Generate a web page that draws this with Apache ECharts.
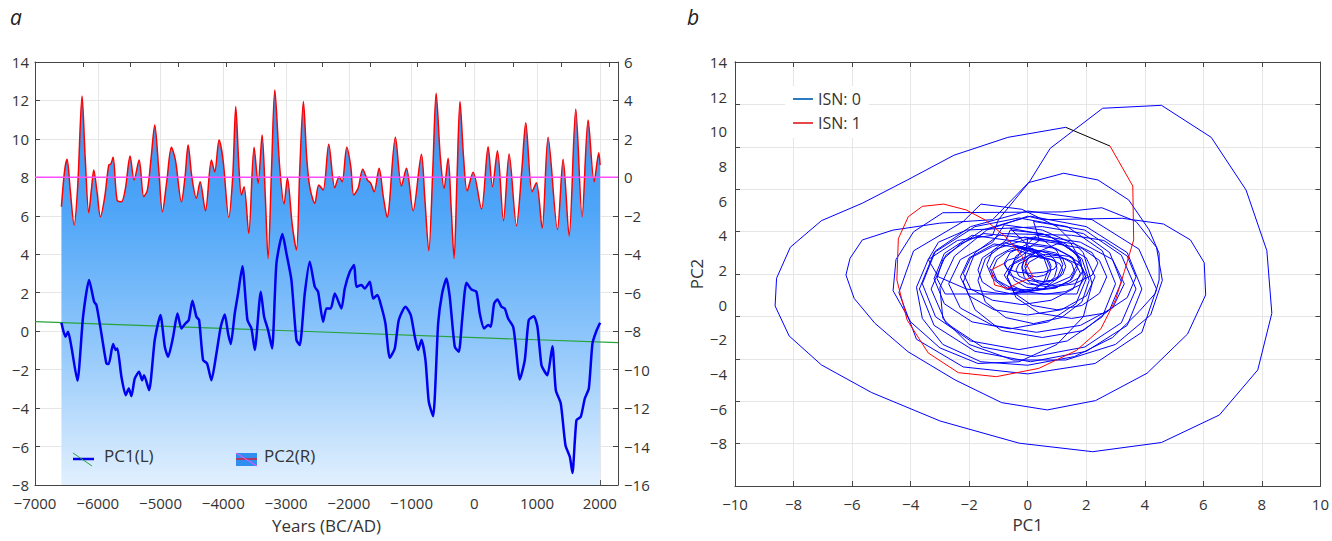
<!DOCTYPE html>
<html><head><meta charset="utf-8">
<script src="https://cdn.jsdelivr.net/npm/echarts@6/dist/echarts.min.js"></script>
<style>html,body{margin:0;padding:0;background:#fff}#c{width:1332px;height:541px}</style>
</head><body><div id="c"></div>
<script>
// ---------- Panel a data ----------
const pc2Years = [-6579,-6530,-6489,-6440,-6377,-6320,-6250,-6200,-6143,-6100,-6064,-6010,-5958,-5888,-5825,-5790,-5756,-5692,-5623,-5559,-5485,-5421,-5341,-5267,-5209,-5150,-5092,-5030,-4970,-4900,-4826,-4762,-4667,-4610,-4560,-4500,-4428,-4369,-4284,-4189,-4136,-4067,-4003,-3913,-3850,-3801,-3750,-3711,-3668,-3594,-3509,-3445,-3381,-3330,-3286,-3230,-3179,-3100,-3031,-2978,-2900,-2834,-2780,-2723,-2670,-2622,-2542,-2478,-2409,-2319,-2223,-2154,-2106,-2032,-1968,-1921,-1852,-1777,-1703,-1650,-1596,-1517,-1450,-1389,-1257,-1161,-1081,-975,-842,-790,-725,-660,-608,-540,-481,-417,-370,-322,-275,-228,-170,-114,-19,114,220,289,369,465,555,672,760,820,921,990,1081,1176,1325,1415,1511,1617,1718,1814,1910,1984,2005];
const pc2Values = [-1.53,0.3,0.94,-0.6,-2.48,-0.5,4.23,1.0,-1.84,-0.6,0.38,-0.8,-2.05,-1.0,0.64,0.7,1.04,-1.18,-1.27,-0.57,1.11,-0.14,0.9,-1.0,-0.66,1.0,2.72,0.5,-1.79,-0.2,1.56,0.9,-1.27,0.0,1.68,0.0,-1.09,-0.23,-1.74,0.9,0.29,1.94,0.9,-2.08,0.0,3.68,0.5,-0.92,-0.49,-2.91,1.56,-0.31,2.2,-1.0,-4.22,0.5,4.54,0.5,-1.39,-0.05,-2.5,-3.78,0.5,3.94,1.0,-0.49,-1.35,-0.4,-0.66,1.72,-0.54,0.03,-0.23,1.56,0.55,-0.92,-0.57,0.42,-0.14,-0.31,-0.75,0.47,-1.0,-2.08,2.08,-0.45,0.47,-1.74,1.2,-1.0,-3.82,0.5,4.37,1.0,-0.57,0.99,-1.5,-4.22,0.0,3.94,1.0,-0.7,0.26,-1.65,1.59,-0.49,1.39,-2.25,1.21,-2.52,0.5,2.84,-0.75,-0.28,-2.65,2.08,-2.71,0.94,-3.05,3.55,-2.05,2.98,-0.23,1.28,0.64];
const pc1Years = [-6579,-6515,-6473,-6420,-6324,-6234,-6138,-6058,-6021,-5942,-5862,-5825,-5756,-5713,-5687,-5623,-5554,-5506,-5464,-5410,-5341,-5293,-5262,-5182,-5092,-5001,-4932,-4879,-4799,-4730,-4667,-4603,-4550,-4492,-4428,-4385,-4322,-4258,-4189,-4109,-4040,-3976,-3923,-3880,-3817,-3764,-3695,-3615,-3551,-3498,-3402,-3349,-3286,-3222,-3153,-3057,-2994,-2914,-2834,-2781,-2701,-2622,-2542,-2489,-2409,-2356,-2287,-2223,-2117,-2064,-1984,-1915,-1878,-1798,-1745,-1665,-1612,-1543,-1480,-1416,-1347,-1267,-1203,-1097,-1012,-948,-895,-842,-778,-725,-656,-576,-513,-444,-391,-311,-247,-194,-125,-45,34,87,156,220,263,316,369,433,486,539,619,656,725,805,868,948,1006,1070,1123,1166,1245,1299,1378,1453,1522,1564,1628,1697,1761,1825,1883,1947,2005];
const pc1Values = [0.44,-0.29,-0.03,-0.81,-2.58,0.75,2.66,1.53,1.36,-0.12,-1.68,-1.71,-0.67,-0.98,-0.9,-2.37,-3.33,-2.98,-3.38,-2.46,-2.11,-2.55,-2.29,-3.07,-0.46,0.84,-0.81,-1.33,-0.29,0.92,0.14,0.4,0.58,1.58,0.75,0.58,-1.5,-1.68,-2.55,-1.16,0.23,0.87,-0.12,-0.67,0.92,1.96,3.38,0.58,0.14,-0.98,2.05,0.75,0.06,-0.9,3.52,5.05,4.05,2.66,-0.46,-0.72,1.96,3.61,2.31,2.05,0.49,1.18,1.18,1.96,1.18,2.22,3.09,3.44,2.31,2.4,2.22,2.57,1.7,1.88,1.27,0.4,-1.38,-0.9,0.58,1.27,0.84,-0.29,-0.98,-0.46,-1.5,-3.67,-4.42,0.4,1.96,2.74,1.79,-0.81,-1.07,0.58,2.52,2.17,2.05,0.92,0.14,0.32,0.23,1.44,1.65,1.27,1.18,0.66,0.23,-0.64,-2.51,-1.5,0.58,0.78,0.23,-1.76,-2.11,-2.29,-0.78,-3.07,-3.76,-5.93,-6.53,-7.37,-4.63,-4.45,-3.5,-2.98,-0.64,0.02,0.44];
const trendYears = [-7000, 2290];
const trendValues = [0.5, -0.6];
const zeroYears = [-7000, 2290];
const zeroValues = [0, 0];

// ---------- Panel b data (PC1, PC2) ----------
const loopA = [[0.4,2.7],[0.8,2.6],[1.1,2.35],[1.2,2.0],[1.1,1.65],[0.8,1.4],[0.4,1.3],[0.0,1.4],[-0.3,1.65],[-0.4,2.0],[-0.3,2.35],[0.0,2.6]];
const loopY = [[0.1,2.8],[0.55,2.73],[0.9,2.55],[1.0,2.3],[0.9,2.05],[0.55,1.87],[0.1,1.8],[-0.35,1.87],[-0.7,2.05],[-0.8,2.3],[-0.7,2.55],[-0.35,2.73]];
const loopAA = [[-0.2,3.2],[0.3,3.05],[0.65,2.6],[0.8,2.0],[0.65,1.4],[0.3,0.95],[-0.2,0.8],[-0.7,0.95],[-1.05,1.4],[-1.2,2.0],[-1.05,2.6],[-0.7,3.05]];
const loopB = [[0.2,3.4],[0.95,3.25],[1.5,2.75],[1.7,2.1],[1.5,1.45],[0.95,0.95],[0.2,0.8],[-0.55,0.95],[-1.1,1.45],[-1.3,2.1],[-1.1,2.75],[-0.55,3.25]];
const loopN = [[0.3,2.8],[0.55,2.72],[0.73,2.5],[0.8,2.2],[0.73,1.9],[0.55,1.68],[0.3,1.6],[0.05,1.68],[-0.13,1.9],[-0.2,2.2],[-0.13,2.5],[0.05,2.72]];
const loopC = [[0.6,2.9],[1.1,2.8],[1.5,2.4],[1.6,1.9],[1.45,1.4],[1.0,1.0],[0.5,0.9],[-0.05,1.0],[-0.45,1.4],[-0.6,1.9],[-0.45,2.45],[0.0,2.8]];
const loopBB = [[1.0,3.5],[1.85,3.25],[2.45,2.55],[2.7,1.6],[2.45,0.65],[1.85,-0.05],[1.0,-0.3],[0.15,-0.05],[-0.45,0.65],[-0.7,1.6],[-0.45,2.55],[0.15,3.25]];
const loopV = [[0.6,2.8],[1.3,2.65],[1.8,2.25],[2.0,1.7],[1.8,1.15],[1.3,0.75],[0.6,0.6],[-0.1,0.75],[-0.6,1.15],[-0.8,1.7],[-0.6,2.25],[-0.1,2.65]];
const loopD = [[0.0,3.8],[1.15,3.5],[2.0,2.7],[2.3,1.6],[2.0,0.5],[1.15,-0.3],[0.0,-0.6],[-1.15,-0.3],[-2.0,0.5],[-2.3,1.6],[-2.0,2.7],[-1.15,3.5]];
const loopDD = [[0.4,3.1],[0.7,2.97],[0.92,2.6],[1.0,2.1],[0.92,1.6],[0.7,1.23],[0.4,1.1],[0.1,1.23],[-0.12,1.6],[-0.2,2.1],[-0.12,2.6],[0.1,2.97]];
const loopE = [[0.6,3.1],[0.95,2.98],[1.2,2.65],[1.3,2.2],[1.2,1.75],[0.95,1.42],[0.6,1.3],[0.25,1.42],[0.0,1.75],[-0.1,2.2],[0.0,2.65],[0.25,2.98]];
const loopG = [[-0.5,3.4],[0.1,3.2],[0.55,2.7],[0.7,2.0],[0.55,1.3],[0.1,0.8],[-0.5,0.6],[-1.1,0.8],[-1.55,1.3],[-1.7,2.0],[-1.55,2.7],[-1.1,3.2]];
const loopX = [[0.2,3.9],[1.15,3.55],[1.85,2.65],[2.1,1.4],[1.85,0.15],[1.15,-0.75],[0.2,-1.1],[-0.75,-0.75],[-1.45,0.15],[-1.7,1.4],[-1.45,2.65],[-0.75,3.55]];
const loopI = [[0.9,2.9],[1.4,2.78],[1.75,2.45],[1.9,2.0],[1.75,1.55],[1.4,1.22],[0.9,1.1],[0.4,1.22],[0.05,1.55],[-0.1,2.0],[0.05,2.45],[0.4,2.78]];
const loopCC = [[-0.6,4.4],[0.7,4.0],[1.65,2.95],[2.0,1.5],[1.65,0.05],[0.7,-1.0],[-0.6,-1.4],[-1.9,-1.0],[-2.85,0.05],[-3.2,1.5],[-2.85,2.95],[-1.9,4.0]];
const loopJ = [[-0.2,3.6],[0.8,3.35],[1.55,2.7],[1.8,1.8],[1.55,0.9],[0.8,0.25],[-0.2,0.0],[-1.2,0.25],[-1.95,0.9],[-2.2,1.8],[-1.95,2.7],[-1.2,3.35]];
const loopT = [[-0.1,3.9],[0.55,3.7],[1.0,3.1],[1.2,2.3],[1.0,1.5],[0.55,0.9],[-0.1,0.7],[-0.75,0.9],[-1.2,1.5],[-1.4,2.3],[-1.2,3.1],[-0.75,3.7]];
const loopK = [[-0.6,4.3],[0.5,4.1],[1.3,3.5],[1.8,2.6],[1.9,1.6],[1.68,0.61],[-2.82,0.61],[-3.1,1.5],[-2.9,2.6],[-2.3,3.5],[-1.5,4.1]];
const loopU = [[0.8,3.7],[1.6,3.5],[2.2,3.0],[2.4,2.4],[2.2,1.7],[1.6,1.2],[0.8,1.0],[0.0,1.2],[-0.6,1.7],[-0.8,2.4],[-0.6,3.0],[0.0,3.5]];
const loopF = [[0.3,4.0],[1.8,3.6],[2.9,2.6],[3.3,1.2],[2.9,-0.2],[1.8,-1.2],[0.3,-1.6],[-1.2,-1.2],[-2.3,-0.2],[-2.7,1.2],[-2.3,2.6],[-1.2,3.6]];
const loopW = [[-0.8,4.6],[0.5,4.3],[1.45,3.6],[1.8,2.6],[1.45,1.6],[0.5,0.9],[-0.8,0.6],[-2.1,0.9],[-3.05,1.6],[-3.4,2.6],[-3.05,3.6],[-2.1,4.3]];
const loopS = [[0.5,4.5],[1.9,4.1],[2.8,3.0],[3.2,1.3],[2.8,-0.3],[1.9,-1.5],[0.5,-1.9],[-0.9,-1.5],[-1.8,-0.3],[-2.2,1.3],[-1.8,3.0],[-0.9,4.1]];
const loopL = [[1.5,4.0],[2.6,3.7],[3.4,2.8],[3.7,1.6],[3.4,0.4],[2.6,-0.5],[1.5,-0.8],[0.4,-0.5],[-0.4,0.4],[-0.7,1.6],[-0.4,2.8],[0.4,3.7]];
const loopEE = [[0.2,4.8],[1.95,4.3],[3.2,2.85],[3.7,0.9],[3.2,-1.05],[1.95,-2.45],[0.2,-3.0],[-1.55,-2.45],[-2.8,-1.05],[-3.3,0.9],[-2.8,2.85],[-1.55,4.3]];
const loopH = [[0.1,5.1],[2.0,4.5],[3.4,3.0],[3.9,0.9],[3.4,-1.2],[2.0,-2.7],[0.1,-3.3],[-1.8,-2.7],[-3.2,-1.2],[-3.7,0.9],[-3.2,3.0],[-1.8,4.5]];
const loopZ = [[-0.3,5.0],[1.35,4.5],[2.55,3.1],[3.0,1.2],[2.55,-0.7],[1.35,-2.1],[-0.3,-2.6],[-1.95,-2.1],[-3.15,-0.7],[-3.6,1.2],[-3.15,3.1],[-1.95,4.5]];
const loopM = [[0.0,5.4],[2.2,4.9],[3.8,3.2],[4.4,0.9],[3.9,-1.6],[2.3,-3.4],[0.0,-4.0],[-2.2,-3.6],[-3.8,-2.0],[-4.4,0.7],[-3.9,3.1],[-2.2,4.8]];
const loopR = [[-1.6,5.8],[-0.2,5.5],[1.0,4.5],[1.9,3.0],[2.2,1.2],[1.9,-0.7],[1.0,-2.3],[-0.3,-3.3],[-1.7,-3.4],[-3.0,-2.5],[-4.0,-1.0],[-4.6,0.8],[-4.5,2.6],[-3.9,4.2],[-2.9,5.3]];
const loopQ = [[1.2,5.35],[2.53,5.59],[3.7,4.8],[4.4,3.3],[4.6,1.4],[4.2,-0.6],[3.0,-2.3],[1.3,-3.2],[-0.5,-3.2],[-2.0,-2.3],[-2.9,-0.8],[-3.0,1.0],[-2.5,2.8],[-1.4,4.3],[0.0,5.1]];
const loopO = [[0.5,4.9],[3.23,4.98],[4.64,4.65],[5.56,3.73],[6.03,2.42],[6.08,0.56],[5.46,-1.7],[4.08,-3.96],[2.32,-5.54],[0.67,-6.08],[-0.89,-5.66],[-2.48,-4.35],[-4.09,-2.72],[-5.22,-1.08],[-5.93,0.36],[-6.21,1.71],[-6.07,2.67],[-5.65,3.73],[-4.6,4.3],[-3.0,4.7],[-1.2,4.9]];
const loopP = [[0.03,7.04],[1.23,7.58],[2.4,7.19],[3.45,6.04],[4.15,4.31],[4.49,2.96],[4.49,1.42],[4.36,0.65],[3.8,-0.41],[2.9,-1.9],[1.6,-3.0],[0.0,-3.5],[-1.6,-3.3],[-2.9,-2.3],[-3.6,-0.8],[-3.8,1.0],[-3.4,2.6],[-2.4,3.7],[-1.2,4.0]];
const loopOuter = [[-1.0,4.9],[0.06,7.09],[0.77,9.02],[2.56,11.33],[4.57,11.5],[6.27,9.65],[7.46,6.61],[8.17,3.11],[8.34,-0.5],[7.86,-3.77],[6.55,-6.37],[4.57,-7.96],[2.22,-8.49],[-0.29,-8.0],[-2.99,-6.72],[-5.33,-5.08],[-7.05,-3.48],[-8.15,-1.81],[-8.63,-0.08],[-8.58,1.52],[-8.11,3.31],[-7.05,4.84],[-5.65,5.85],[-4.1,7.2],[-2.52,8.62],[-0.68,9.65],[1.30,10.23]];
const blackLink = [[1.30,10.23],[2.81,9.15]];
const redPath = [[2.81,9.15],[3.1,8.3],[3.59,6.84],[3.62,3.73],[3.3,1.9],[3.0,0.27],[2.5,-1.4],[1.67,-2.64],[0.38,-3.68],[-1.07,-4.16],[-2.37,-3.93],[-3.4,-2.79],[-4.12,-0.89],[-4.47,1.42],[-4.42,3.8],[-4.08,5.07],[-3.6,5.67],[-2.87,5.8],[-2.1,5.46],[-1.45,4.88],[-0.76,3.92],[-0.22,2.86],[0.0,2.19],[0.18,1.6],[-0.23,1.32],[-0.7,0.94],[-1.13,1.13],[-1.25,2.0],[-0.8,2.38]];
const bluePath = [].concat(loopA,loopY,loopAA,loopB,loopN,loopC,loopBB,loopV,loopD,loopDD,loopE,loopG,loopX,loopI,loopCC,loopJ,loopT,loopK,loopU,loopF,loopW,loopS,loopL,loopEE,loopH,loopZ,loopM,loopR,loopQ,loopO,loopP,loopOuter);

// ---------- chart ----------
const FONT = '"Open Sans", "Noto Sans", sans-serif';
const TXT = '#333';
const AX = '#444';
const GRIDC = '#e6e6e6';
const fmt = v => v < 0 ? '\u2212' + Math.abs(v) : String(v);
const zip = (a, b) => a.map((x, i) => [x, b[i]]);

const axisLine = {show: true, onZero: false, lineStyle: {color: AX, width: 1}};
const tickIn = {show: true, inside: true, length: 5, lineStyle: {color: AX}};
const lbl = {color: TXT, fontFamily: FONT, fontSize: 15, lineHeight: 15};

const chart = echarts.init(document.getElementById('c'), null, {renderer: 'svg'});
chart.setOption({
  animation: false,
  backgroundColor: '#fff',
  grid: [
    {left: 35, right: 714, top: 62, bottom: 56},
    {left: 735, right: 6, top: 62, bottom: 55}
  ],
  xAxis: [
    {gridIndex: 0, type: 'value', position: 'bottom', min: -7000, max: 2290, interval: 1000,
     axisLine, axisTick: tickIn,
     axisLabel: Object.assign({formatter: fmt, showMaxLabel: false, margin: 10}, lbl),
     splitLine: {show: true, lineStyle: {color: GRIDC}},
     name: 'Years (BC/AD)', nameLocation: 'middle', nameGap: 32,
     nameTextStyle: {color: TXT, fontFamily: FONT, fontSize: 17}},
    {gridIndex: 0, type: 'value', position: 'top', min: 0, max: 12.19, interval: 1,
     axisLine, axisTick: tickIn, axisLabel: {show: false}, splitLine: {show: false}},
    {gridIndex: 1, type: 'value', position: 'bottom', min: -10, max: 10, interval: 2,
     axisLine, axisTick: tickIn,
     axisLabel: Object.assign({formatter: fmt, margin: 10}, lbl),
     splitLine: {show: true, lineStyle: {color: GRIDC}},
     name: 'PC1', nameLocation: 'middle', nameGap: 30,
     nameTextStyle: {color: TXT, fontFamily: FONT, fontSize: 17}},
    {gridIndex: 1, type: 'value', position: 'top', min: -10, max: 10, interval: 2,
     axisLine, axisTick: tickIn, axisLabel: {show: false}, splitLine: {show: false}}
  ],
  yAxis: [
    {gridIndex: 0, type: 'value', position: 'left', min: -8, max: 14, interval: 2,
     axisLine, axisTick: tickIn,
     axisLabel: Object.assign({formatter: fmt, margin: 6}, lbl),
     splitLine: {show: true, lineStyle: {color: GRIDC}}},
    {gridIndex: 0, type: 'value', position: 'right', min: -16, max: 6, interval: 2,
     axisLine, axisTick: tickIn,
     axisLabel: Object.assign({formatter: fmt, margin: 6}, lbl),
     splitLine: {show: false}},
    {gridIndex: 1, type: 'value', min: -10.47, max: 14, show: false},
    {gridIndex: 1, type: 'value', position: 'left', inverse: true, min: -14, max: 10.47, interval: 2,
     axisLine, axisTick: {show: false},
     axisLabel: Object.assign({formatter: v => (v >= 9.99 ? '' : fmt(-v)), margin: 8}, lbl),
     splitLine: {show: false},
     name: 'PC2', nameLocation: 'middle', nameGap: 30, nameRotate: 90,
     nameTextStyle: {color: TXT, fontFamily: FONT, fontSize: 17}},
    {gridIndex: 1, type: 'value', position: 'left', min: 0, max: 10, interval: 1,
     axisLine, axisTick: tickIn, axisLabel: {show: false},
     splitLine: {show: true, lineStyle: {color: GRIDC}}},
    {gridIndex: 1, type: 'value', position: 'right', min: 0, max: 10, interval: 1,
     axisLine, axisTick: tickIn, axisLabel: {show: false}, splitLine: {show: false}}
  ],
  legend: {
    left: 785, top: 86, orient: 'vertical', backgroundColor: '#fff',
    padding: [4, 8, 6, 8], itemWidth: 20, itemHeight: 2, itemGap: 6, icon: 'rect',
    textStyle: {color: TXT, fontFamily: FONT, fontSize: 16, lineHeight: 18},
    data: [
      {name: 'ISN: 0', itemStyle: {color: '#2a7bc0'}},
      {name: 'ISN: 1', itemStyle: {color: '#e8474a'}}
    ]
  },
  series: [
    {name: 'PC2(R)', type: 'line', xAxisIndex: 0, yAxisIndex: 1, data: zip(pc2Years, pc2Values),
     smooth: 0.3, showSymbol: false, symbol: 'none', z: 2,
     lineStyle: {color: '#ff0000', width: 1.5},
     areaStyle: {origin: 'start', opacity: 1,
       color: new echarts.graphic.LinearGradient(0, 0, 0, 1, [
         {offset: 0, color: '#3592f0'},
         {offset: 0.3, color: '#4ea5f8'},
         {offset: 0.65, color: '#92c8fb'},
         {offset: 1, color: '#e2f0fe'}])}},
    {name: 'zero', type: 'line', xAxisIndex: 0, yAxisIndex: 1, data: zip(zeroYears, zeroValues),
     showSymbol: false, symbol: 'none', z: 3, lineStyle: {color: '#ff4cff', width: 1.5}},
    {name: 'trend', type: 'line', xAxisIndex: 0, yAxisIndex: 0, data: zip(trendYears, trendValues),
     showSymbol: false, symbol: 'none', z: 4, lineStyle: {color: '#27a33a', width: 1.2}},
    {name: 'PC1(L)', type: 'line', xAxisIndex: 0, yAxisIndex: 0, data: zip(pc1Years, pc1Values),
     smooth: 0.2, showSymbol: false, symbol: 'none', z: 5, lineStyle: {color: '#0000f0', width: 2.5}},
    {name: 'ISN: 0', type: 'line', xAxisIndex: 2, yAxisIndex: 2, data: bluePath,
     showSymbol: false, symbol: 'none', z: 3, lineStyle: {color: '#0000ff', width: 1}},
    {name: 'link', type: 'line', xAxisIndex: 2, yAxisIndex: 2, data: blackLink,
     showSymbol: false, symbol: 'none', z: 4, lineStyle: {color: '#000', width: 1}},
    {name: 'ISN: 1', type: 'line', xAxisIndex: 2, yAxisIndex: 2, data: redPath,
     showSymbol: false, symbol: 'none', z: 4, lineStyle: {color: '#ff0000', width: 1}}
  ],
  graphic: [
    {type: 'text', left: 10, top: 6, z: 100, style: {text: 'a', fontFamily: FONT, fontSize: 21, fontStyle: 'italic', fill: '#222'}},
    {type: 'text', left: 687, top: 6, z: 100, style: {text: 'b', fontFamily: FONT, fontSize: 21, fontStyle: 'italic', fill: '#222'}},
    {type: 'line', z: 100, shape: {x1: 73, y1: 459, x2: 94, y2: 459}, style: {stroke: '#0000f0', lineWidth: 2.5}},
    {type: 'line', z: 101, shape: {x1: 73, y1: 453, x2: 92, y2: 466}, style: {stroke: '#27a33a', lineWidth: 1}},
    {type: 'text', left: 104, top: 447, z: 100, style: {text: 'PC1(L)', fontFamily: FONT, fontSize: 17, fill: TXT}},
    {type: 'rect', z: 100, shape: {x: 236, y: 453, width: 21, height: 13}, style: {fill: '#2f8ef0'}},
    {type: 'line', z: 101, shape: {x1: 236, y1: 459, x2: 257, y2: 459}, style: {stroke: '#ff0000', lineWidth: 1.2}},
    {type: 'line', z: 102, shape: {x1: 236, y1: 453, x2: 257, y2: 466}, style: {stroke: '#ff4cff', lineWidth: 1}},
    {type: 'text', left: 264, top: 447, z: 100, style: {text: 'PC2(R)', fontFamily: FONT, fontSize: 17, fill: TXT}}
  ]
});
</script>
</body></html>
